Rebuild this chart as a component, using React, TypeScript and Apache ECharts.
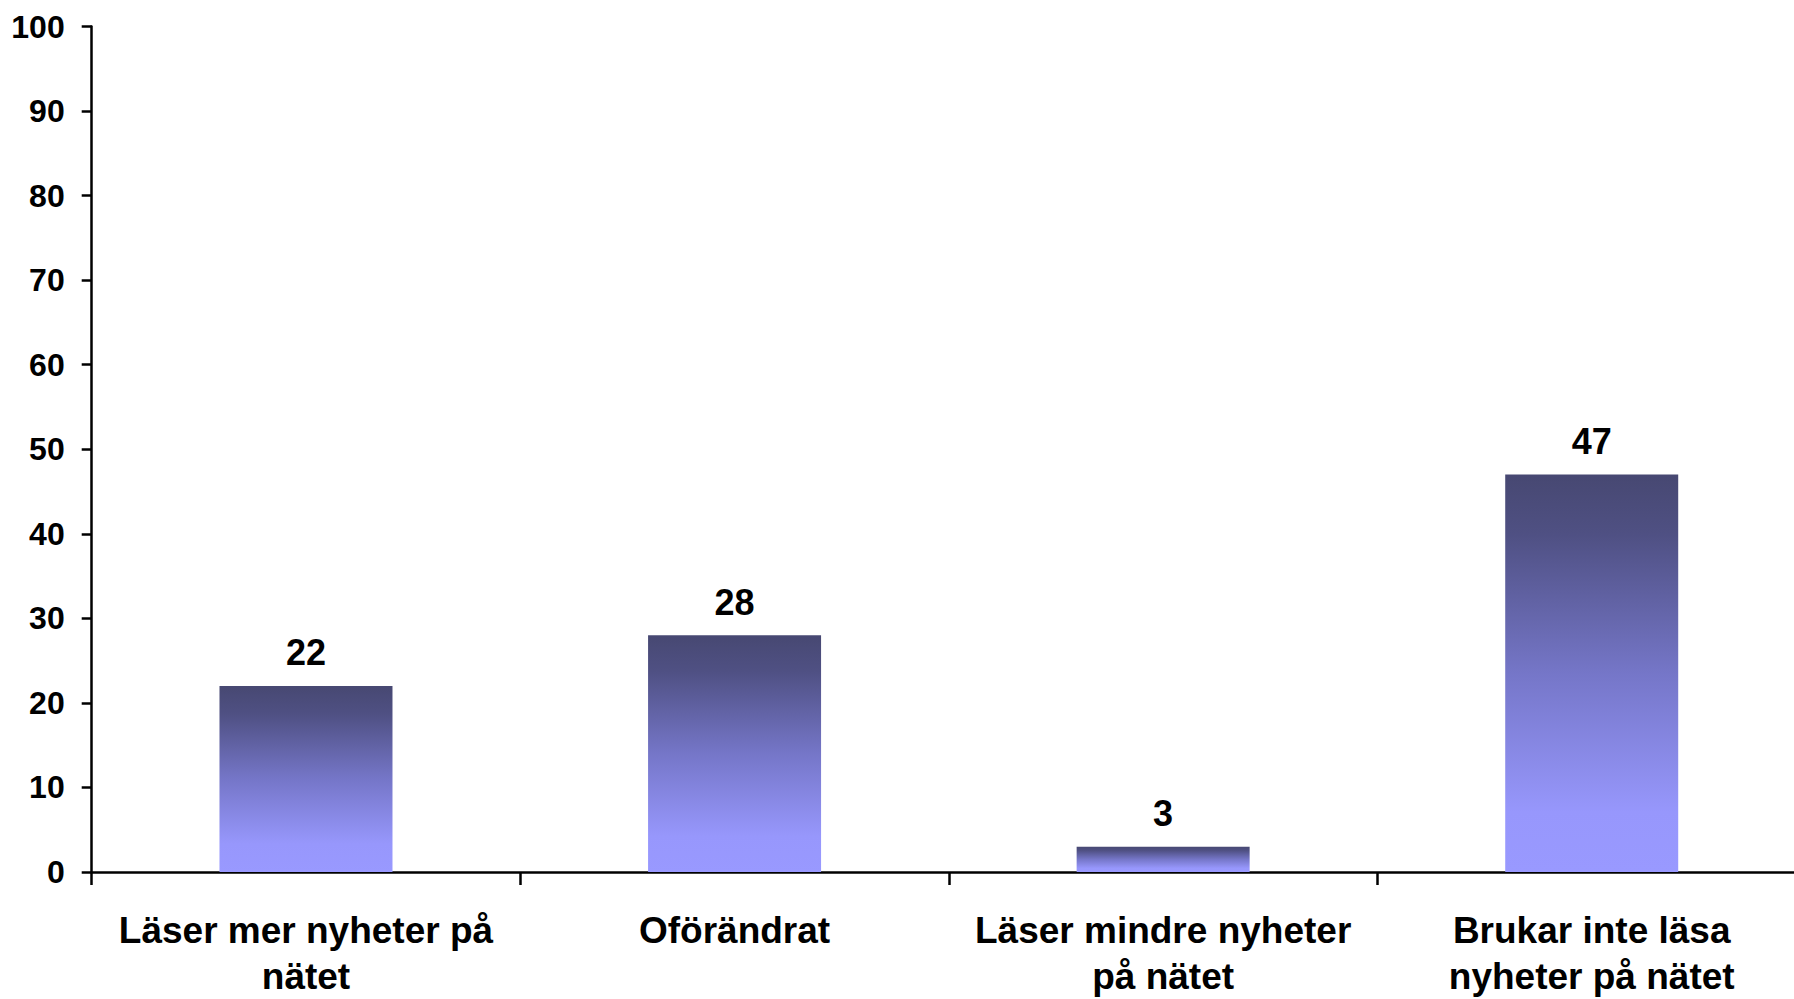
import React, { useEffect, useRef } from "react";
import * as echarts from "echarts";

const categories = [
  "Läser mer nyheter på\nnätet",
  "Oförändrat",
  "Läser mindre nyheter\npå nätet",
  "Brukar inte läsa\nnyheter på nätet",
];
const values = [22, 28, 3, 47];
const yMin = 0;
const yMax = 100;
const yInterval = 10;

const FONT = "'Liberation Sans', Arial, Helvetica, sans-serif";

export default function App() {
  const ref = useRef<HTMLDivElement>(null);
  useEffect(() => {
    if (!ref.current) return;
    const chart = echarts.init(ref.current, undefined, { renderer: "svg" });
    chart.setOption({
      animation: false,
      backgroundColor: "#ffffff",
      grid: { left: 91.7, right: 0, top: 26.5, bottom: 122, containLabel: false },
      xAxis: {
        type: "category",
        data: categories,
        boundaryGap: true,
        axisLine: { show: true, lineStyle: { color: "#000", width: 2.5 } },
        axisTick: { show: true, length: 13, lineStyle: { color: "#000", width: 2.5 }, alignWithLabel: false },
        axisLabel: {
          interval: 0,
          margin: 35,
          color: "#000",
          fontFamily: FONT,
          fontWeight: "bold",
          fontSize: 37,
          lineHeight: 46,
          verticalAlign: "top",
        },
        splitLine: { show: false },
      },
      yAxis: {
        type: "value",
        min: yMin,
        max: yMax,
        interval: yInterval,
        axisLine: { show: true, lineStyle: { color: "#000", width: 2.5 } },
        axisTick: { show: true, length: 10, lineStyle: { color: "#000", width: 2.5 } },
        axisLabel: {
          margin: 27,
          color: "#000",
          fontFamily: FONT,
          fontWeight: "bold",
          fontSize: 32,
        },
        splitLine: { show: false },
      },
      series: [
        {
          type: "bar",
          data: values,
          barWidth: 173,
          itemStyle: {
            color: new echarts.graphic.LinearGradient(0, 0, 0, 1, [
              { offset: 0, color: "#474872" },
              { offset: 0.15, color: "#4f5083" },
              { offset: 0.5, color: "#7576c8" },
              { offset: 0.85, color: "#9797fc" },
              { offset: 1, color: "#9999ff" },
            ]),
          },
          label: {
            show: true,
            position: "top",
            distance: 15,
            color: "#000",
            fontFamily: FONT,
            fontWeight: "bold",
            fontSize: 36,
          },
        },
      ],
    });
    return () => chart.dispose();
  }, []);
  return (
    <div
      style={{ position: "absolute", left: 0, top: 0, width: 1794, height: 999, overflow: "hidden", background: "#fff" }}
    >
      <div ref={ref} style={{ width: 1806, height: 999 }} />
    </div>
  );
}
